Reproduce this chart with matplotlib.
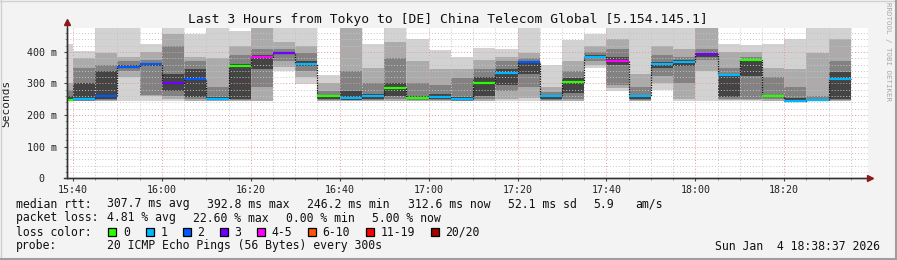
import matplotlib
matplotlib.use("Agg")
import matplotlib.pyplot as plt
from matplotlib.patches import Rectangle
from matplotlib.lines import Line2D

W, H = 897, 260
MONO = "DejaVu Sans Mono"

# 5 minute slots (start time of each slot)
slots = ["15:35", "15:40", "15:45", "15:50", "15:55", "16:00", "16:05", "16:10",
         "16:15", "16:20", "16:25", "16:30", "16:35", "16:40", "16:45", "16:50",
         "16:55", "17:00", "17:05", "17:10", "17:15", "17:20", "17:25", "17:30",
         "17:35", "17:40", "17:45", "17:50", "17:55", "18:00", "18:05", "18:10",
         "18:15", "18:20", "18:25", "18:30"]

# median rtt in ms
median = [247.4, 250.5, 261.0, 352.6, 361.0, 302.0, 314.7, 251.5, 354.8, 384.0,
          397.0, 361.0, 259.0, 254.7, 259.0, 286.3, 253.7, 257.9, 250.5, 302.0,
          333.7, 368.5, 261.0, 305.5, 384.0, 371.6, 259.0, 361.0, 368.5, 392.8,
          327.0, 374.8, 261.0, 246.2, 246.5, 312.6]

# lost pings out of 20
loss = [0, 1, 2, 2, 2, 3, 2, 1, 0, 4, 3, 1, 0, 1, 1, 0, 0, 1, 1, 0,
        1, 2, 1, 0, 1, 4, 1, 1, 1, 3, 1, 0, 0, 1, 1, 1]

# smoke bands (outer -> inner), upper and lower edges in ms
hi1 = [425, 404, 480, 480, 424, 480, 455, 480, 465, 480, 480, 480, 326, 480, 424, 480,
       440, 405, 385, 412, 410, 480, 358, 437, 455, 480, 480, 480, 480, 480, 424, 421,
       424, 441, 480, 480]
lo1 = [244, 244, 244, 244, 244, 244, 244, 244, 244, 244, 340, 298, 244, 244, 244, 244,
       244, 244, 244, 244, 244, 244, 244, 244, 350, 275, 244, 280, 244, 246, 244, 244,
       244, 244, 244, 244]
hi2 = [300, 382, 395, 385, 400, 455, 385, 380, 420, 480, 430, 420, 300, 480, 350, 430,
       370, 345, 345, 375, 385, 395, 290, 370, 420, 440, 330, 420, 410, 480, 400, 400,
       350, 345, 395, 440]
lo2 = [246, 245, 246, 320, 262, 252, 246, 245, 246, 246, 352, 320, 246, 245, 246, 246,
       246, 246, 245, 246, 250, 255, 246, 246, 360, 285, 246, 300, 250, 340, 248, 248,
       246, 245, 245, 246]
hi3 = [280, 350, 360, 370, 375, 420, 370, 290, 390, 410, 410, 395, 275, 340, 300, 380,
       300, 295, 318, 345, 370, 380, 272, 340, 400, 410, 290, 390, 385, 410, 350, 385,
       320, 290, 260, 370]
lo3 = [248, 246, 248, 338, 265, 260, 250, 247, 248, 290, 370, 340, 248, 247, 248, 250,
       248, 248, 246, 250, 275, 290, 248, 252, 372, 295, 248, 325, 300, 375, 252, 252,
       250, 246, 246, 248]
hi4 = [262, 300, 340, 360, 366, 330, 345, 258, 362, 390, 400, 372, 265, 275, 268, 300,
       262, 268, 258, 320, 345, 372, 265, 318, 390, 385, 265, 368, 375, 395, 330, 378,
       265, 255, 252, 335]
lo4 = [249, 248, 252, 348, 355, 275, 256, 249, 250, 345, 392, 355, 252, 249, 252, 262,
       250, 251, 248, 262, 295, 330, 252, 270, 380, 360, 252, 350, 355, 385, 258, 325,
       256, 247, 247, 250]

loss_labels = ["0", "1", "2", "3", "4-5", "6-10", "11-19", "20/20"]
loss_colors = ["#26ff00", "#00b8ff", "#0059ff", "#7000ff", "#ff00ff", "#ff5500", "#ff0000", "#a10000"]

x_ticks = ["15:40", "16:00", "16:20", "16:40", "17:00", "17:20", "17:40", "18:00", "18:20"]


def minutes(t):
    h, m = t.split(":")
    return int(h) * 60 + int(m) - (15 * 60 + 40)


def loss_bin(n):
    if n <= 3:
        return n
    if n <= 5:
        return 4
    if n <= 10:
        return 5
    if n <= 19:
        return 6
    return 7


def fx(px):
    return px / W


def fy(py):
    return 1 - py / H


x_left = [minutes(t) for t in slots]

fig = plt.figure(figsize=(W / 100, H / 100), dpi=100, facecolor="#f3f3f3")
ax = fig.add_axes([fx(67), fy(178.4), 801 / W, 150.6 / H])
ax.set_facecolor("white")

# smoke
shades = ["#d2d2d2", "#ababab", "#828282", "#444444"]
for his, los, shade in zip([hi1, hi2, hi3, hi4], [lo1, lo2, lo3, lo4], shades):
    ax.bar(x_left, [h - l for h, l in zip(his, los)], bottom=los, width=5,
           align="edge", color=shade, linewidth=0, zorder=1)

# median step + loss coloured segments
ax.step(x_left + [x_left[-1] + 5], median + [median[-1]], where="post",
        color="#111111", lw=0.9, ls=(0, (1, 1)), zorder=3)
for xl, m, n in zip(x_left, median, loss):
    ax.hlines(m, xl, xl + 5, color=loss_colors[loss_bin(n)], lw=1.6, zorder=4)

ax.set_xlim(-1.35, 178.85)
ax.set_ylim(0, 476)

ax.set_xticks([minutes(t) for t in x_ticks])
ax.set_xticklabels(x_ticks)
ax.set_xticks(range(0, 180, 5), minor=True)
ax.set_yticks([0, 100, 200, 300, 400])
ax.set_yticklabels(["0  ", "100 m", "200 m", "300 m", "400 m"])
ax.set_yticks(range(0, 476, 20), minor=True)
for lab in ax.get_xticklabels() + ax.get_yticklabels():
    lab.set_fontfamily(MONO)
    lab.set_fontsize(7.2)
    lab.set_color("#222222")
ax.tick_params(which="major", length=2.5, width=0.8, color="#444444", pad=2)
ax.tick_params(axis="y", which="major", pad=4.5)
ax.tick_params(which="minor", length=1.5, width=0.6, color="#888888")

ax.grid(which="minor", color="#c4c4c4", lw=0.7, ls=(0, (1, 2)), zorder=2)
ax.grid(which="major", color="#e59a9a", lw=0.7, ls=(0, (1, 2)), zorder=2)
ax.set_axisbelow(False)

for s in ["top", "right"]:
    ax.spines[s].set_visible(False)
for s in ["left", "bottom"]:
    ax.spines[s].set_color("#333333")
    ax.spines[s].set_linewidth(1.0)
    ax.spines[s].set_zorder(5)

# axis extensions and arrows
fig.add_artist(Line2D([fx(67), fx(67)], [fy(178), fy(24)], color="#333333", lw=1.0))
fig.add_artist(Line2D([fx(64), fx(868)], [fy(178.4), fy(178.4)], color="#333333", lw=1.0))
fig.add_artist(Line2D([fx(67)], [fy(21.5)], marker="^", markersize=5, color="#8b1a1a", lw=0))
fig.add_artist(Line2D([fx(870)], [fy(178.4)], marker=">", markersize=5, color="#8b1a1a", lw=0))

ax.set_ylabel("Seconds", fontfamily=MONO, fontsize=8, color="#222222")
ax.yaxis.set_label_coords((11 - 67) / 801, 0.5)

fig.text(fx(447.5), fy(19), "Last 3 Hours from Tokyo to [DE] China Telecom Global [5.154.145.1]",
         ha="center", va="center", fontfamily=MONO, fontsize=9.4, color="#111111")

fig.text(fx(888), fy(52), "RRDTOOL / TOBI OETIKER", rotation=270, ha="center", va="center",
         fontfamily=MONO, fontsize=5.4, color="#a8a8a8")

# legend lines
leg_fs = 8.3
rows = [
    (204, [(16, "median rtt:"), (107, "307.7 ms avg"), (207, "392.8 ms max"),
           (307, "246.2 ms min"), (408, "312.6 ms now"), (508, "52.1 ms sd"),
           (593, "5.9"), (635, "am/s")]),
    (218, [(16, "packet loss:"), (107, "4.81 % avg"), (193, "22.60 % max"),
           (286, "0.00 % min"), (372, "5.00 % now")]),
    (232, [(16, "loss color:")]),
    (246, [(16, "probe:"), (107, "20 ICMP Echo Pings (56 Bytes) every 300s")]),
]
for y, items in rows:
    for x, s in items:
        fig.text(fx(x), fy(y), s, ha="left", va="center", fontfamily=MONO,
                 fontsize=leg_fs, color="#111111")

box_x = [108, 145.5, 182.5, 219.5, 256.5, 307.5, 365.5, 430.5]
for bx, lab, col in zip(box_x, loss_labels, loss_colors):
    fig.add_artist(Rectangle((fx(bx), fy(236)), 8 / W, 8 / H, transform=fig.transFigure,
                             facecolor=col, edgecolor="black", lw=0.9))
    fig.text(fx(bx + 15), fy(232), lab, ha="left", va="center", fontfamily=MONO,
             fontsize=leg_fs, color="#111111")

fig.text(fx(880), fy(246), "Sun Jan  4 18:38:37 2026", ha="right", va="center",
         fontfamily=MONO, fontsize=leg_fs, color="#111111")

# frame
fig.add_artist(Line2D([0, 1], [fy(0.5), fy(0.5)], color="#d0d0d0", lw=1))
fig.add_artist(Line2D([fx(0.5), fx(0.5)], [0, 1], color="#d0d0d0", lw=1))
fig.add_artist(Line2D([0, 1], [fy(259), fy(259)], color="#9e9e9e", lw=1.5))
fig.add_artist(Line2D([fx(896), fx(896)], [0, 1], color="#9e9e9e", lw=1.5))

fig.savefig("out.png", dpi=100, facecolor=fig.get_facecolor())
